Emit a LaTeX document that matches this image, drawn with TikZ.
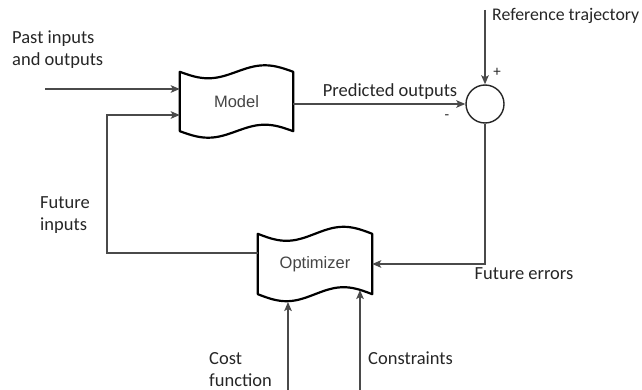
\documentclass[tikz,border=0pt]{standalone}
\usepackage{fontspec}
\setmainfont{Carlito}
\newfontfamily\boxfont{Liberation Sans}
\usetikzlibrary{arrows.meta,calc}
\definecolor{lbl}{HTML}{262626}
\definecolor{wire}{HTML}{4a4a4a}
\definecolor{boxtxt}{HTML}{454545}
\tikzset{
  block/.style={rectangle, draw=none, inner sep=0pt,
    font=\boxfont\fontsize{16.5}{19}\selectfont, text=boxtxt},
  tapeline/.style={draw=black, line width=2.2pt, fill=white, line join=round},
  tapeshadow/.style={fill=black, opacity=0.10, draw=none},
  sumnode/.style={circle, draw=black!85, line width=1.4pt, fill=white, minimum size=38pt, inner sep=0pt},
  wireline/.style={draw=wire, line width=1.6pt, -{Stealth[length=9pt,width=7.5pt,inset=2pt]}},
  txt/.style={font=\fontsize{18.5}{22}\selectfont, text=lbl, inner sep=0pt, align=left},
  sign/.style={font=\fontsize{15}{17}\selectfont, text=lbl, inner sep=0pt}
}
% wavy "tape" outline around a named node: top and bottom edges are one sine period
\newcommand\tapepath[2]{%
  let \p1=(#1.north west), \p2=(#1.south east), \n1={\x2-\x1} in
  plot[domain=0:1, samples=41, variable=\t] ({\x1+\t*\n1}, {\y1-#2*sin(360*\t)})
  -- plot[domain=1:0, samples=41, variable=\t] ({\x1+\t*\n1}, {\y2-#2*sin(360*\t)}) -- cycle}
\newcommand\tapeoutline[2]{%
  \path[tapeshadow, xshift=2pt, yshift=-3pt] \tapepath{#1}{#2};
  \path[tapeshadow, xshift=3.5pt, yshift=-4.5pt] \tapepath{#1}{#2};
  \path[tapeline] \tapepath{#1}{#2};
  \node[block] at (#1) {\csname label#1\endcsname};}
\newcommand\labelmodel{Model}
\newcommand\labelopt{Optimizer}
\begin{document}
\begin{tikzpicture}[x=1pt,y=-1pt]
\useasboundingbox (0,0) rectangle (642,390);

% blocks and summing junction
\node[block, minimum width=113pt, minimum height=59pt] (model) at (236.5,101.5) {};
\node[block, minimum width=114pt, minimum height=60pt] (opt) at (315,264) {};
\tapeoutline{model}{6.5pt}
\tapeoutline{opt}{7pt}
\node[sumnode] (sum) at (485,104) {};

% free ends of the connectors
\coordinate (pastIn) at (45,89);
\coordinate (fiCorner) at (107,253);
\coordinate (fiTop) at (107,115);
\coordinate (refIn) at (485,10);
\coordinate (costIn) at (288,390);
\coordinate (costEnd) at (288,302);
\coordinate (consIn) at (360,390);
\coordinate (consEnd) at (360,290);

% connectors
\draw[wireline] (pastIn) -- (pastIn -| model.west);
\draw[wireline] (opt.west |- fiCorner) -- (fiCorner) -- (fiTop) -- (fiTop -| model.west);
\draw[wireline] (model.east |- sum.west) -- (sum.west);
\draw[wireline] (refIn) -- (sum.north);
\draw[wireline] (sum.south) |- (opt.east);
\draw[wireline] (costIn) -- (costEnd);
\draw[wireline] (consIn) -- (consEnd);

% labels
\node[txt, anchor=west] (lPast) at (12,49.5) {Past inputs\\and outputs};
\node[txt, anchor=west] (lFut) at (40,215) {Future\\inputs};
\node[txt] (lPred) at (390,92) {Predicted outputs};
\node[txt, anchor=west, font=\fontsize{17.8}{22}\selectfont] (lRef) at (492,16) {Reference trajectory};
\node[txt] (lErr) at (524,274) {Future errors};
\node[txt, anchor=west] (lCost) at (209,369.5) {Cost\\function};
\node[txt, anchor=west] (lCons) at (368,358) {Constraints};
\node[sign] (plus) at (497,72) {+};
\node[sign] (minus) at (447,117) {-};
\end{tikzpicture}
\end{document}
